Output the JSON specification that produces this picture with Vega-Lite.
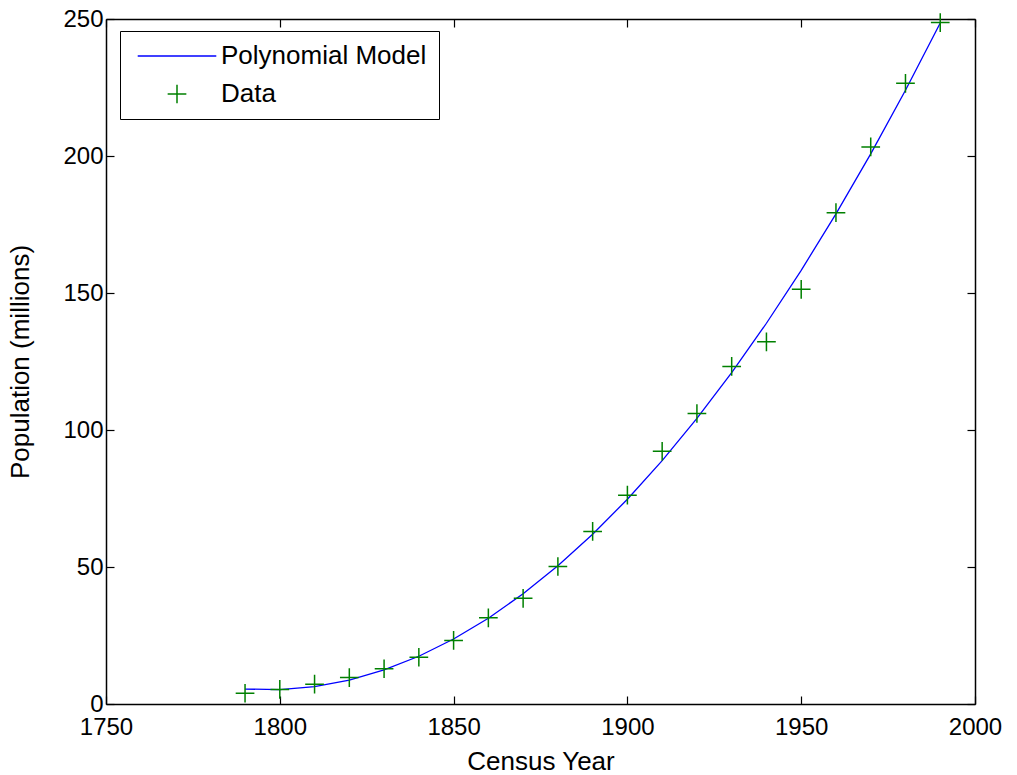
{
  "$schema": "https://vega.github.io/schema/vega-lite/v6.json",
  "width": 869,
  "height": 685,
  "autosize": {"type": "none"},
  "padding": {"left": 106, "top": 19, "right": 42, "bottom": 71},
  "background": "white",
  "config": {
    "view": {"stroke": null},
    "font": "Liberation Sans",
    "axis": {
      "grid": false,
      "labelFont": "Liberation Sans",
      "labelFontSize": 24,
      "labelColor": "black",
      "titleFont": "Liberation Sans",
      "titleFontSize": 26,
      "titleFontWeight": "normal",
      "titleColor": "black",
      "domainColor": "black",
      "domainWidth": 1.5,
      "tickColor": "black",
      "tickWidth": 1.2,
      "tickSize": -8
    }
  },
  "datasets": {
    "model": [
      {"year": 1790, "pop": 5.45, "series": "Polynomial Model"},
      {"year": 1800, "pop": 5.24, "series": "Polynomial Model"},
      {"year": 1810, "pop": 6.34, "series": "Polynomial Model"},
      {"year": 1820, "pop": 8.73, "series": "Polynomial Model"},
      {"year": 1830, "pop": 12.43, "series": "Polynomial Model"},
      {"year": 1840, "pop": 17.42, "series": "Polynomial Model"},
      {"year": 1850, "pop": 23.72, "series": "Polynomial Model"},
      {"year": 1860, "pop": 31.32, "series": "Polynomial Model"},
      {"year": 1870, "pop": 40.22, "series": "Polynomial Model"},
      {"year": 1880, "pop": 50.42, "series": "Polynomial Model"},
      {"year": 1890, "pop": 61.93, "series": "Polynomial Model"},
      {"year": 1900, "pop": 74.73, "series": "Polynomial Model"},
      {"year": 1910, "pop": 88.84, "series": "Polynomial Model"},
      {"year": 1920, "pop": 104.25, "series": "Polynomial Model"},
      {"year": 1930, "pop": 120.95, "series": "Polynomial Model"},
      {"year": 1940, "pop": 138.96, "series": "Polynomial Model"},
      {"year": 1950, "pop": 158.27, "series": "Polynomial Model"},
      {"year": 1960, "pop": 178.89, "series": "Polynomial Model"},
      {"year": 1970, "pop": 200.8, "series": "Polynomial Model"},
      {"year": 1980, "pop": 224.01, "series": "Polynomial Model"},
      {"year": 1990, "pop": 248.53, "series": "Polynomial Model"}
    ],
    "census": [
      {"year": 1790, "pop": 3.929, "series": "Data"},
      {"year": 1800, "pop": 5.308, "series": "Data"},
      {"year": 1810, "pop": 7.24, "series": "Data"},
      {"year": 1820, "pop": 9.638, "series": "Data"},
      {"year": 1830, "pop": 12.866, "series": "Data"},
      {"year": 1840, "pop": 17.069, "series": "Data"},
      {"year": 1850, "pop": 23.192, "series": "Data"},
      {"year": 1860, "pop": 31.443, "series": "Data"},
      {"year": 1870, "pop": 38.558, "series": "Data"},
      {"year": 1880, "pop": 50.189, "series": "Data"},
      {"year": 1890, "pop": 62.98, "series": "Data"},
      {"year": 1900, "pop": 76.212, "series": "Data"},
      {"year": 1910, "pop": 92.228, "series": "Data"},
      {"year": 1920, "pop": 106.021, "series": "Data"},
      {"year": 1930, "pop": 123.203, "series": "Data"},
      {"year": 1940, "pop": 132.165, "series": "Data"},
      {"year": 1950, "pop": 151.326, "series": "Data"},
      {"year": 1960, "pop": 179.323, "series": "Data"},
      {"year": 1970, "pop": 203.302, "series": "Data"},
      {"year": 1980, "pop": 226.542, "series": "Data"},
      {"year": 1990, "pop": 248.71, "series": "Data"}
    ]
  },
  "layer": [
    {
      "data": {"name": "model"},
      "mark": {"type": "line", "strokeWidth": 1.3},
      "encoding": {
        "x": {
          "field": "year", "type": "quantitative",
          "scale": {"domain": [1750, 2000], "nice": false, "zero": false},
          "axis": {"orient": "bottom", "title": "Census Year", "values": [1750, 1800, 1850, 1900, 1950, 2000], "format": "d", "labelPadding": 19, "titlePadding": 9, "labelFlush": false}
        },
        "y": {
          "field": "pop", "type": "quantitative",
          "scale": {"domain": [0, 250], "nice": false},
          "axis": {"orient": "left", "title": "Population (millions)", "values": [0, 50, 100, 150, 200, 250], "labelPadding": 11, "titlePadding": 29, "labelFlush": false}
        },
        "color": {
          "field": "series", "type": "nominal",
          "scale": {"domain": ["Polynomial Model", "Data"], "range": ["#0000ff", "#008000"]},
          "legend": {
            "orient": "none", "legendX": 14, "legendY": 12,
            "title": null,
            "strokeColor": "black", "fillColor": "white", "padding": 12,
            "symbolSize": 350, "symbolStrokeWidth": 1.5,
            "symbolOffset": 32, "labelOffset": 31, "labelLimit": 500,
            "labelFont": "Liberation Sans", "labelFontSize": 26, "labelColor": "black",
            "rowPadding": 12,
            "encode": {
              "symbols": {
                "update": {
                  "shape": {"signal": "datum.value === 'Data' ? 'M-1,0H1M0,-1V1' : 'M-4.2,0H4.2'"},
                  "stroke": {"signal": "datum.value === 'Data' ? '#008000' : '#0000ff'"},
                  "fill": {"value": "transparent"},
                  "strokeWidth": {"value": 1.5}
                }
              }
            }
          }
        }
      }
    },
    {
      "data": {"name": "census"},
      "mark": {"type": "point", "shape": "M-1,0H1M0,-1V1", "size": 350, "filled": false, "strokeWidth": 1.5, "opacity": 1},
      "encoding": {
        "x": {
          "field": "year", "type": "quantitative",
          "axis": {"orient": "top", "title": null, "labels": false, "values": [1750, 1800, 1850, 1900, 1950, 2000]}
        },
        "y": {
          "field": "pop", "type": "quantitative",
          "axis": {"orient": "right", "title": null, "labels": false, "values": [0, 50, 100, 150, 200, 250]}
        },
        "color": {"field": "series", "type": "nominal"}
      }
    }
  ],
  "resolve": {"axis": {"x": "independent", "y": "independent"}}
}
